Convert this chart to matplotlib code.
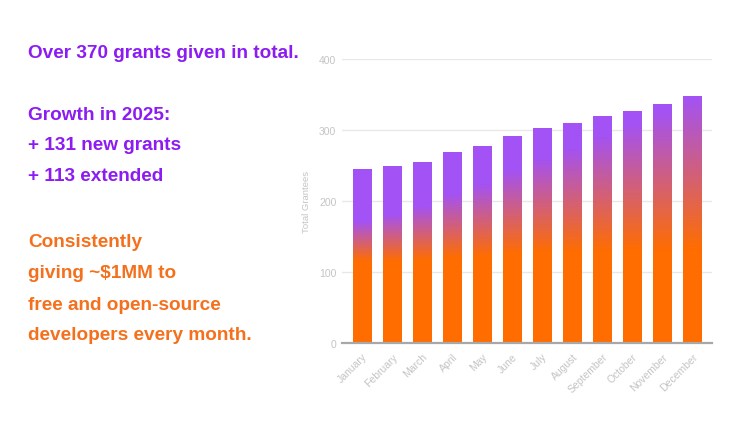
import numpy as np
import matplotlib.pyplot as plt
from matplotlib.colors import to_rgb

# Data
months = ['January', 'February', 'March', 'April', 'May', 'June', 'July',
          'August', 'September', 'October', 'November', 'December']
grantees = [245, 249, 255, 268, 277, 291, 302, 309, 319, 327, 336, 347]
y_ticks = [0, 100, 200, 300, 400]

purple = np.array(to_rgb('#a352f5'))
orange = np.array(to_rgb('#ff6d00'))
purple_text = '#8c1cf2'
orange_text = '#f5701c'
tick_grey = '#c4c4c4'

plt.rcParams['font.family'] = ['Liberation Sans', 'DejaVu Sans']

fig = plt.figure(figsize=(7.4, 4.31), dpi=100)
ax = fig.add_axes([0.462, 0.2026, 0.5, 0.6589])

x = np.arange(len(months))
bars = ax.bar(x, grantees, width=0.63, color='none', edgecolor='none', zorder=2)

# vertical purple -> orange gradient inside each bar
n = len(bars)
for i, rect in enumerate(bars):
    h = rect.get_height()
    lo = h * (0.47 - 0.09 * i / (n - 1))
    hi = h * (0.70 + 0.30 * i / (n - 1))
    yy = np.linspace(0, h, 256)
    t = np.clip((yy - lo) / (hi - lo), 0, 1)
    col = orange[None, :] * (1 - t[:, None]) + purple[None, :] * t[:, None]
    img = ax.imshow(col[:, None, :], origin='lower', aspect='auto',
                    extent=[rect.get_x(), rect.get_x() + rect.get_width(), 0, h],
                    zorder=2, interpolation='bilinear')
    img.set_clip_path(rect)

ax.set_xlim(-0.68, 11.65)
ax.set_ylim(0, 400)
ax.set_yticks(y_ticks)
ax.set_xticks(x)
ax.set_xticklabels(months, rotation=45, ha='right', rotation_mode='anchor')
ax.tick_params(axis='both', length=0, labelsize=7.5, colors=tick_grey)
ax.tick_params(axis='x', pad=6)
ax.tick_params(axis='y', pad=4)
ax.grid(axis='y', color='#e8e8e8', linewidth=1, zorder=0)
ax.set_axisbelow(True)
for side in ['top', 'right', 'left']:
    ax.spines[side].set_visible(False)
ax.spines['bottom'].set_color('#a8a8a8')
ax.spines['bottom'].set_linewidth(1.6)
ax.spines['bottom'].set_zorder(3)
ax.set_ylabel('Total Grantees', fontsize=6.8, color=tick_grey, labelpad=6)

# left side text
lines = [
    ('Over 370 grants given in total.', 53, purple_text),
    ('Growth in 2025:', 115, purple_text),
    ('+ 131 new grants', 146, purple_text),
    ('+ 113 extended', 177, purple_text),
    ('Consistently', 243, orange_text),
    ('giving ~$1MM to', 274, orange_text),
    ('free and open-source', 305, orange_text),
    ('developers every month.', 336, orange_text),
]
for txt, ypix, c in lines:
    fig.text(28 / 740, 1 - ypix / 431, txt, fontsize=13.7, fontweight='bold',
             color=c, va='center', ha='left')

fig.savefig('out.png', dpi=100)
